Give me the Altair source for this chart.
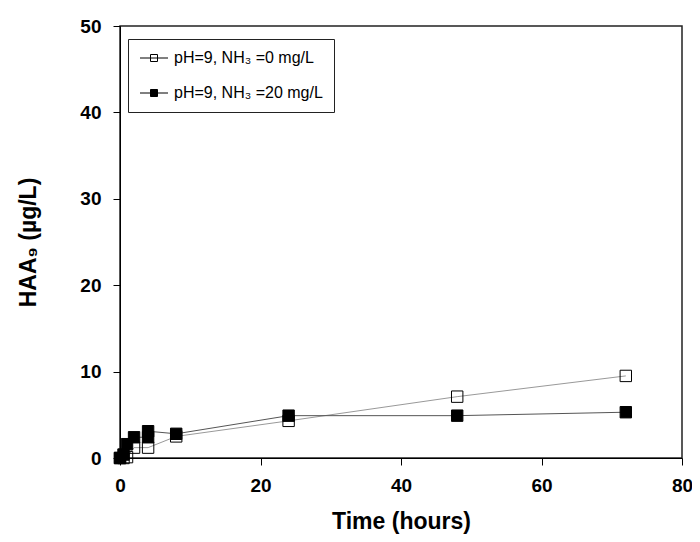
import altair as alt
import pandas as pd

series_names = ["pH=9, NH₃ =0 mg/L", "pH=9, NH₃ =20 mg/L"]

time_open = [0, 0.5, 1, 2, 4, 8, 24, 48, 72]
haa_open = [0, 0, 0.1, 1.2, 1.2, 2.5, 4.3, 7.1, 9.5]

time_filled = [0, 0.5, 1, 2, 4, 4, 8, 24, 48, 72]
haa_filled = [0, 0.4, 1.6, 2.4, 2.4, 3.1, 2.8, 4.9, 4.9, 5.3]

x_ticks = [0, 20, 40, 60, 80]
y_ticks = [0, 10, 20, 30, 40, 50]

rows = []
for i, (t, v) in enumerate(zip(time_open, haa_open)):
    rows.append({"time": t, "haa": v, "series": series_names[0], "ord": i})
for i, (t, v) in enumerate(zip(time_filled, haa_filled)):
    rows.append({"time": t, "haa": v, "series": series_names[1], "ord": i})
df = pd.DataFrame(rows)

x = alt.X("time:Q", scale=alt.Scale(domain=[0, 80], nice=False),
          axis=alt.Axis(values=x_ticks, title="Time (hours)", labelPadding=11,
                        labelFlush=False, titlePadding=15))
y = alt.Y("haa:Q", scale=alt.Scale(domain=[0, 50], nice=False),
          axis=alt.Axis(values=y_ticks, title="HAA₉ (µg/L)", labelPadding=12,
                        labelFlush=False, titlePadding=39))

line_open = alt.Chart(df).transform_filter(
    alt.datum.series == series_names[0]
).mark_line(strokeWidth=1, color="#999999").encode(x=x, y=y, order="ord:Q")

line_filled = alt.Chart(df).transform_filter(
    alt.datum.series == series_names[1]
).mark_line(strokeWidth=1, color="#555555").encode(x=x, y=y, order="ord:Q")

points = alt.Chart(df).mark_point(shape="square", size=130, filled=True,
                                  stroke="black", strokeWidth=1, opacity=1).encode(
    x=x, y=y,
    fill=alt.Fill("series:N",
                  scale=alt.Scale(domain=series_names, range=["transparent", "black"]),
                  legend=alt.Legend(
                      title=None, orient="none", legendX=8, legendY=13,
                      strokeColor="#222", fillColor="white", padding=11,
                      symbolType="M -1 0 L 3 0 M 0.5 -0.5 L 1.5 -0.5 L 1.5 0.5 L 0.5 0.5 Z",
                      symbolSize=196, symbolStrokeColor="black", symbolStrokeWidth=1,
                      labelFontSize=16, labelFont="Liberation Sans",
                      labelOffset=19, rowPadding=19, labelColor="black")),
)

chart = alt.layer(line_open, line_filled, points).properties(
    width=562, height=432,
    padding={"left": 112, "top": 18, "right": 10, "bottom": 76},
    autosize=alt.AutoSizeParams(type="none"),
).configure_view(stroke="#222", strokeWidth=1.5).configure_axis(
    grid=False, domainColor="black", tickColor="black", tickSize=7,
    labelFont="Liberation Sans", titleFont="Liberation Sans",
    labelFontSize=19, labelFontWeight="bold", labelColor="black",
    titleFontSize=23, titleFontWeight="bold", titleColor="black",
)

chart.save("out.html", embed_options={"renderer": "svg", "actions": False})
